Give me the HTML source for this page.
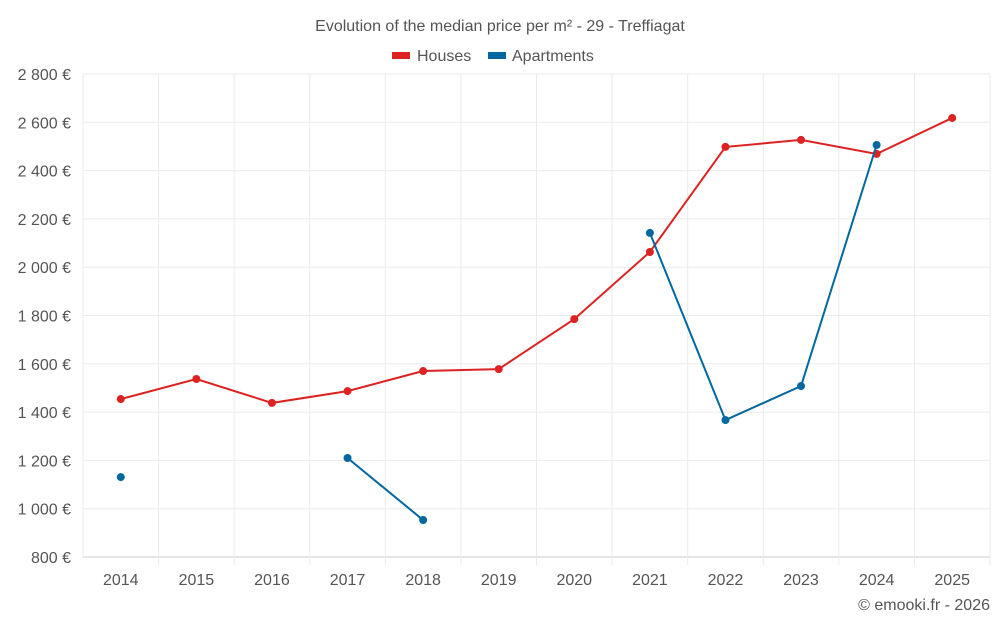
<!DOCTYPE html>
<html><head><meta charset="utf-8"><style>
body{margin:0;background:#fff;font-family:"Liberation Sans",sans-serif}
svg text{font-family:"Liberation Sans",sans-serif;fill:#555}
</style></head><body>
<svg id="chart" width="1000" height="625" xmlns="http://www.w3.org/2000/svg">
<text x="500" y="31" text-anchor="middle" font-size="16">Evolution of the median price per m² - 29 - Treffiagat</text>
<g><rect x="392" y="52" width="18" height="7" fill="#dd2222"/><text x="417" y="61" font-size="16">Houses</text></g>
<g><rect x="488" y="52" width="18" height="7" fill="#00689f"/><text x="512" y="61" font-size="16">Apartments</text></g>
<g id="grid"></g><g id="axes"></g><g id="series"></g>
<text x="990" y="610" text-anchor="end" font-size="16">© emooki.fr - 2026</text>
</svg>
<script>
const years=[2014,2015,2016,2017,2018,2019,2020,2021,2022,2023,2024,2025];
const houses=[1454,1537,1438,1487,1570,1578,1785,2063,2498,2527,2469,2618];
const apartments=[1131,null,null,1210,953,null,null,2142,1367,1508,2506,null];
const yTicks=[800,1000,1200,1400,1600,1800,2000,2200,2400,2600,2800];
const L=83,R=990,T=74,B=557,yMin=800,yMax=2800;
const step=(R-L)/years.length;
const x=i=>L+step*(i+0.5);
const y=v=>B-(v-yMin)/(yMax-yMin)*(B-T);
const NS='http://www.w3.org/2000/svg';
function mk(tag,attrs,parent){const e=document.createElementNS(NS,tag);for(const k in attrs)e.setAttribute(k,attrs[k]);parent.appendChild(e);return e;}
const grid=document.getElementById('grid'),axes=document.getElementById('axes'),ser=document.getElementById('series');
yTicks.forEach(t=>{
 const l=mk('line',{x1:L,x2:R,y1:y(t),y2:y(t),stroke:t===yMin?'#ccc':'#ebebeb'},grid);
 
 
 const tx=mk('text',{x:L-12,y:y(t)+6,'text-anchor':'end','font-size':16},axes);
 tx.textContent=String(t).replace(/\B(?=(\d{3})+(?!\d))/g,' ')+' €';
 
 
});
for(let i=0;i<=years.length;i++){
 const l=mk('line',{x1:L+step*i,x2:L+step*i,y1:T,y2:B+(i>0?8:0),stroke:'#ebebeb'},grid);
 
 
}
years.forEach((yr,i)=>{
 const tx=mk('text',{x:x(i),y:B+28,'text-anchor':'middle','font-size':16},axes);
 tx.textContent=yr;
 
 
});
function drawSeries(vals,color,name){
 let seg=[];
 const segs=[];
 vals.forEach((v,i)=>{if(v==null){if(seg.length)segs.push(seg);seg=[];}else seg.push([x(i),y(v)]);});
 if(seg.length)segs.push(seg);
 segs.forEach(s=>{if(s.length>1){
  const p=mk('polyline',{points:s.map(q=>q.join(',')).join(' '),fill:'none',stroke:color,'stroke-width':2},ser);
  
  
 }});
 vals.forEach((v,i)=>{if(v==null)return;
  const c=mk('circle',{cx:x(i),cy:y(v),r:4,fill:color},ser);
  
  
 });
}
drawSeries(houses,'#dd2222','houses');
drawSeries(apartments,'#00689f','apartments');
</script>
</body></html>
